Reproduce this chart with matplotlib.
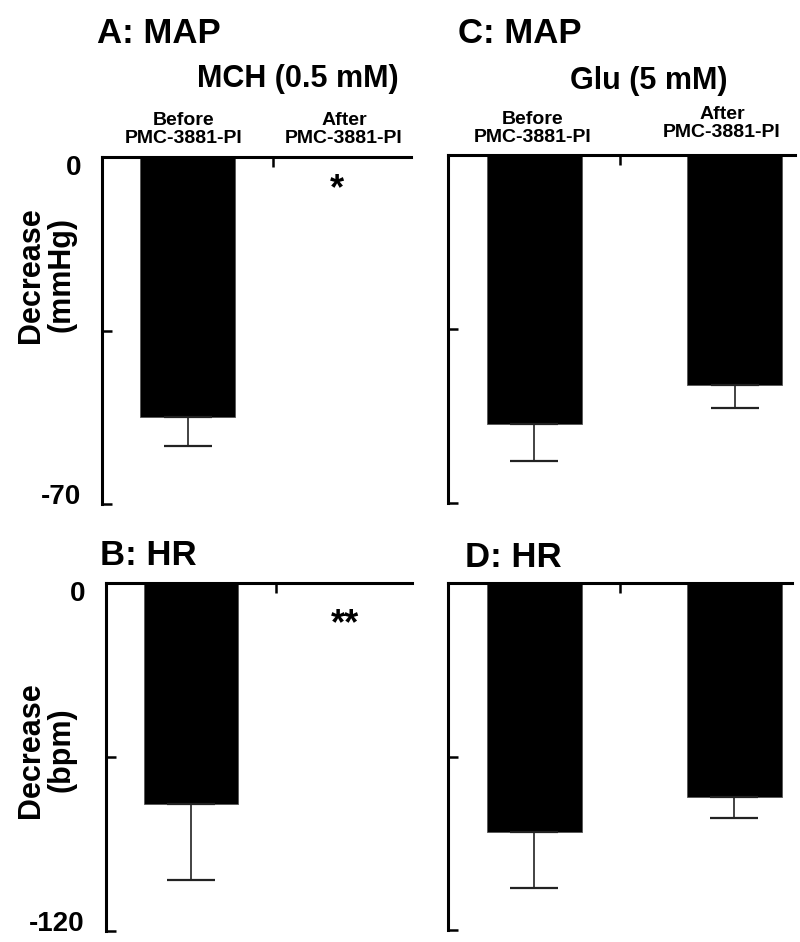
import matplotlib
matplotlib.use('Agg')
import matplotlib.pyplot as plt
import numpy as np

plt.rcParams['font.family'] = ['Liberation Sans', 'DejaVu Sans']
plt.rcParams['font.weight'] = 'bold'

groups = ['Before\nPMC-3881-PI', 'After\nPMC-3881-PI']

# MCH (0.5 mM): no response after PMC-3881-PI
map_mch = [-52.4, np.nan]
map_mch_err = [5.8, np.nan]
hr_mch = [-76.2, np.nan]
hr_mch_err = [26.2, np.nan]

# Glu (5 mM)
map_glu = [-54.1, -46.3]
map_glu_err = [7.5, 4.6]
hr_glu = [-86.1, -74.0]
hr_glu_err = [19.4, 7.3]

W, H = 800, 942
fig = plt.figure(figsize=(W / 100, H / 100), dpi=100)


def px_axes(x0, y0, x1, y1):
    return fig.add_axes([x0 / W, 1 - y1 / H, (x1 - x0) / W, (y1 - y0) / H])


def ftext(x, y, s, **kw):
    fig.text(x / W, 1 - y / H, s, **kw)


def draw(ax, vals, errs, ymin, right, show_labels):
    vals = np.asarray(vals, dtype=float)
    errs = np.asarray(errs, dtype=float)
    x = np.arange(len(vals))
    ok = ~np.isnan(vals)
    ax.bar(x[ok], vals[ok], width=0.475, color='black',
           edgecolor='#555555', linewidth=0.6)
    ax.errorbar(x[ok], vals[ok], yerr=[errs[ok], np.zeros(ok.sum())],
                fmt='none', ecolor='#222222', elinewidth=1.2,
                capsize=17, capthick=1.6)
    ax.set_xlim(-0.43, right)
    ax.set_ylim(ymin, 0)
    for side in ['right', 'bottom']:
        ax.spines[side].set_visible(False)
    for side in ['left', 'top']:
        ax.spines[side].set_linewidth(2.2)
    ax.xaxis.tick_top()
    ax.set_xticks([0.43])
    ax.set_xticklabels([])
    ax.tick_params(axis='x', direction='in', length=7, width=1.8)
    ax.set_yticks([ymin, ymin / 2, 0])
    ax.set_yticklabels([])
    ax.tick_params(axis='y', direction='in', length=7, width=1.8)
    if show_labels:
        # the end labels sit slightly inside the axis range
        for val, dy in [(0, -11), (ymin, 7)]:
            ax.annotate(f'{val}', xy=(0, val), xycoords=('axes fraction', 'data'),
                        xytext=(-21, dy), textcoords='offset pixels',
                        ha='right', va='center', fontsize=20, fontweight='bold')


axA = px_axes(102, 157, 411, 504)
axB = px_axes(106, 583, 412, 931)
axC = px_axes(448, 155, 795, 503)
axD = px_axes(448, 583, 792, 930)

draw(axA, map_mch, map_mch_err, -70, 1.12, True)
draw(axB, hr_mch, hr_mch_err, -120, 1.12, True)
draw(axC, map_glu, map_glu_err, -70, 1.30, False)
draw(axD, hr_glu, hr_glu_err, -120, 1.29, False)

# panel titles
ftext(97, 43, 'A: MAP', fontsize=25, ha='left', va='baseline')
ftext(458, 43, 'C: MAP', fontsize=25, ha='left', va='baseline')
ftext(100, 565, 'B: HR', fontsize=25, ha='left', va='baseline')
ftext(465, 567, 'D: HR', fontsize=25, ha='left', va='baseline')

ftext(298, 87, 'MCH (0.5 mM)', fontsize=22, ha='center', va='baseline')
ftext(649, 89, 'Glu (5 mM)', fontsize=22, ha='center', va='baseline')

# group labels above the top axes
for x, y, s in [(184, 143, groups[0]), (344, 143, groups[1]),
                (533, 142, groups[0]), (722, 137, groups[1])]:
    ftext(x, y, s, fontsize=14, ha='center', va='baseline',
          multialignment='center', linespacing=1.1)

ftext(46, 275, 'Decrease\n(mmHg)', fontsize=22, rotation=90,
      ha='center', va='center', multialignment='center', linespacing=1.0)
ftext(46, 750, 'Decrease\n(bpm)', fontsize=22, rotation=90,
      ha='center', va='center', multialignment='center', linespacing=1.0)

# significance marks
ftext(337, 190, '*', fontsize=26, ha='center', va='center')
ftext(345, 625, '**', fontsize=26, ha='center', va='center')

fig.savefig('out.png', dpi=100)
